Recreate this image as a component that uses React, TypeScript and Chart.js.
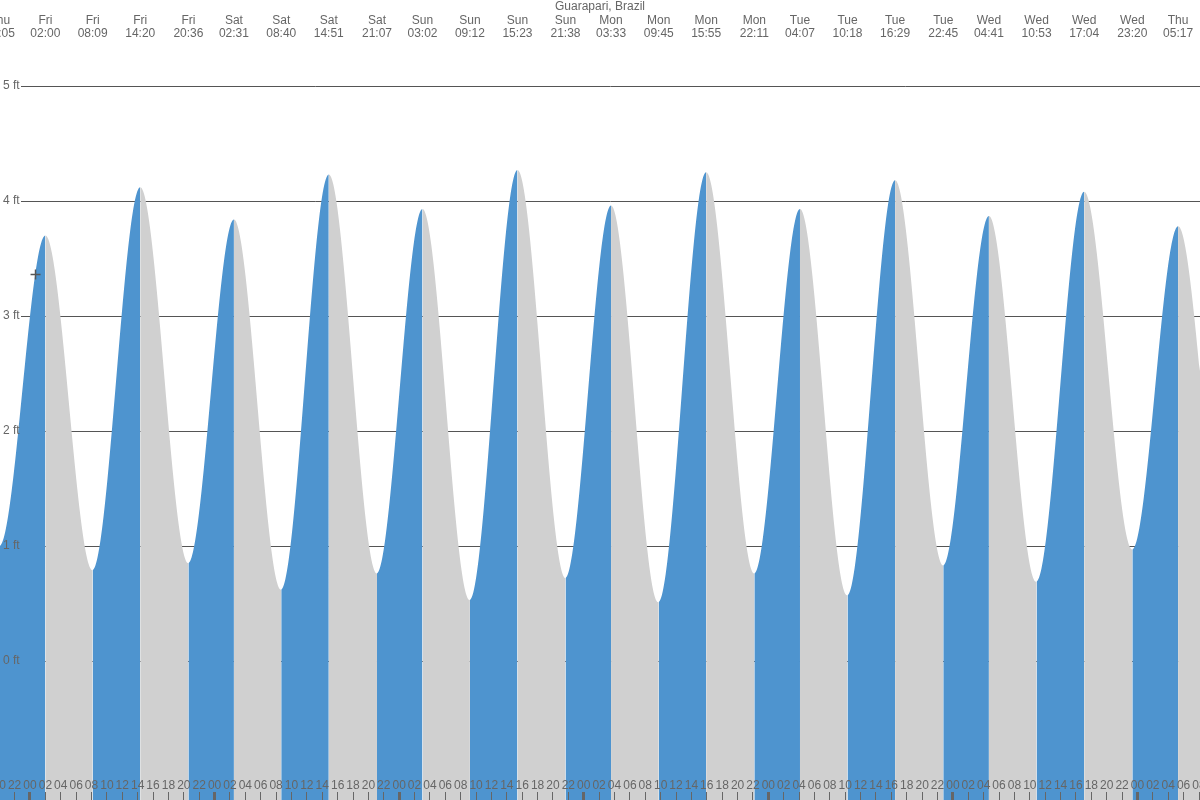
import React, { useEffect, useRef } from 'react';
import { Chart, registerables } from 'chart.js';

Chart.register(...registerables);

// ---- data ----
const locationTitle = 'Guarapari, Brazil';

// tide extremes (high / low) – day offset from Friday 00:00, day name, clock time, height in ft
const eventDayOffset = [-1, -1, 0, 0, 0, 0, 1, 1, 1, 1, 2, 2, 2, 2, 3, 3, 3, 3, 4, 4, 4, 4, 5, 5, 5, 5, 6, 6, 6];
const eventDayName = ['Thu', 'Thu', 'Fri', 'Fri', 'Fri', 'Fri', 'Sat', 'Sat', 'Sat', 'Sat', 'Sun', 'Sun', 'Sun', 'Sun', 'Mon', 'Mon', 'Mon', 'Mon', 'Tue', 'Tue', 'Tue', 'Tue', 'Wed', 'Wed', 'Wed', 'Wed', 'Thu', 'Thu', 'Thu'];
const eventClock = ['13:52', '20:05', '02:00', '08:09', '14:20', '20:36', '02:31', '08:40', '14:51', '21:07', '03:02', '09:12', '15:23', '21:38', '03:33', '09:45', '15:55', '22:11', '04:07', '10:18', '16:29', '22:45', '04:41', '10:53', '17:04', '23:20', '05:17', '11:30', '17:42'];
const eventHeightFt = [3.98, 1.0, 3.7, 0.79, 4.12, 0.85, 3.84, 0.62, 4.23, 0.76, 3.93, 0.53, 4.27, 0.72, 3.96, 0.51, 4.25, 0.76, 3.93, 0.57, 4.18, 0.83, 3.87, 0.69, 4.08, 0.97, 3.78, 0.9, 3.95];

// current-time marker
const nowHour = 0.72;
const nowHeightFt = 3.36;

// axis ranges / ticks
const xMinHour = -3.9;
const xMaxHour = 152.13;
const yMinFt = -1.2087;
const yMaxFt = 5.4;
const yTickFt = [0, 1, 2, 3, 4, 5];
const hourTickStart = -4;
const hourTickEnd = 152;
const hourTickStep = 2;

// ---- styles ----
const BLUE = '#4e94cf';
const GRAY = '#d0d0d0';
const TEXT = '#666666';
const GRID = '#555555';
const FONT = '"Liberation Sans", Arial, Helvetica, sans-serif';

const toHour = (i: number) => {
  const [hh, mm] = eventClock[i].split(':').map(Number);
  return eventDayOffset[i] * 24 + hh + mm / 60;
};
const eventHours = eventClock.map((_, i) => toHour(i));

const hourTicks: number[] = [];
for (let h = hourTickStart; h <= hourTickEnd; h += hourTickStep) hourTicks.push(h);

const pad2 = (n: number) => String(n).padStart(2, '0');

const gridPlugin = {
  id: 'ftGrid',
  beforeDatasetsDraw(chart: any) {
    const y = chart.scales.y;
    const ctx = chart.ctx;
    const right = chart.chartArea.right;
    ctx.save();
    ctx.strokeStyle = GRID;
    ctx.lineWidth = 1;
    for (const t of y.ticks) {
      const py = Math.round(y.getPixelForValue(t.value)) + 0.5;
      ctx.beginPath();
      ctx.moveTo(21, py);
      ctx.lineTo(right, py);
      ctx.stroke();
    }
    ctx.restore();
  },
};

export default function App() {
  const ref = useRef<HTMLCanvasElement | null>(null);

  useEffect(() => {
    document.body.style.margin = '0';
    const canvas = ref.current;
    if (!canvas) return;
    Chart.defaults.font.family = FONT;

    const tideData = eventHours.map((h, i) => ({ x: h, y: eventHeightFt[i] }));

    const chart = new Chart(canvas, {
      type: 'line',
      data: {
        datasets: [
          {
            label: 'now',
            data: [{ x: nowHour, y: nowHeightFt }],
            showLine: false,
            pointStyle: 'cross',
            pointRadius: 5,
            pointBorderWidth: 1.5,
            pointBorderColor: '#555555',
            pointBackgroundColor: '#555555',
            fill: false,
          },
          {
            label: 'tide',
            data: tideData,
            cubicInterpolationMode: 'monotone',
            borderWidth: 0,
            borderColor: 'transparent',
            backgroundColor: BLUE,
            pointRadius: 0,
            fill: 'start',
            segment: {
              backgroundColor: (c: any) => (c.p1.parsed.y > c.p0.parsed.y ? BLUE : GRAY),
              borderColor: () => 'transparent',
            },
          },
        ],
      },
      options: {
        responsive: false,
        animation: false,
        events: [],
        layout: { padding: 0, autoPadding: false },
        plugins: {
          legend: { display: false },
          tooltip: { enabled: false },
          title: {
            display: true,
            text: locationTitle,
            color: TEXT,
            font: { size: 12, weight: 'normal', lineHeight: '14px' },
            padding: { top: 0, bottom: 0 },
          },
        },
        scales: {
          x: {
            type: 'linear',
            position: 'bottom',
            min: xMinHour,
            max: xMaxHour,
            bounds: 'data',
            border: { display: false },
            grid: {
              display: true,
              drawOnChartArea: false,
              drawTicks: true,
              tickLength: -8,
              z: 1,
              color: TEXT,
              tickColor: TEXT,
              tickWidth: (c: any) => (c.tick && ((c.tick.value % 24) + 24) % 24 === 0 ? 3 : 1),
            },
            ticks: {
              z: 1,
              mirror: true,
              padding: 7,
              autoSkip: false,
              maxRotation: 0,
              minRotation: 0,
              color: TEXT,
              font: { size: 12 },
              callback: (v: any) => pad2((((Number(v) % 24) + 24) % 24)),
            },
            afterBuildTicks: (s: any) => {
              s.ticks = hourTicks.map((v) => ({ value: v }));
            },
            afterFit: (s: any) => {
              s.height = 0;
              s.paddingLeft = 0;
              s.paddingRight = 0;
            },
          },
          xTop: {
            type: 'linear',
            position: 'top',
            min: xMinHour,
            max: xMaxHour,
            bounds: 'data',
            border: { display: false },
            grid: { display: false, drawTicks: false },
            ticks: {
              padding: -0.5,
              autoSkip: false,
              maxRotation: 0,
              minRotation: 0,
              color: TEXT,
              font: { size: 12, lineHeight: '13px' },
              callback: (_v: any, i: number) => [eventDayName[i], eventClock[i]],
            },
            afterBuildTicks: (s: any) => {
              s.ticks = eventHours.map((v) => ({ value: v }));
            },
            afterFit: (s: any) => {
              s.height = 26;
              s.paddingLeft = 0;
              s.paddingRight = 0;
            },
          },
          y: {
            type: 'linear',
            position: 'left',
            min: yMinFt,
            max: yMaxFt,
            bounds: 'data',
            border: { display: false },
            grid: { display: false, drawTicks: false },
            ticks: {
              z: 1,
              mirror: true,
              padding: 3,
              color: TEXT,
              font: { size: 12 },
              callback: (v: any) => `${v} ft`,
            },
            afterBuildTicks: (s: any) => {
              s.ticks = yTickFt.map((v) => ({ value: v }));
            },
            afterFit: (s: any) => {
              s.width = 0;
              s.paddingTop = 0;
              s.paddingBottom = 0;
            },
          },
        },
      } as any,
      plugins: [gridPlugin],
    });

    return () => chart.destroy();
  }, []);

  return (
    <div style={{ width: 1200, height: 800 }}>
      <canvas ref={ref} width={1200} height={800} style={{ display: 'block' }} />
    </div>
  );
}
